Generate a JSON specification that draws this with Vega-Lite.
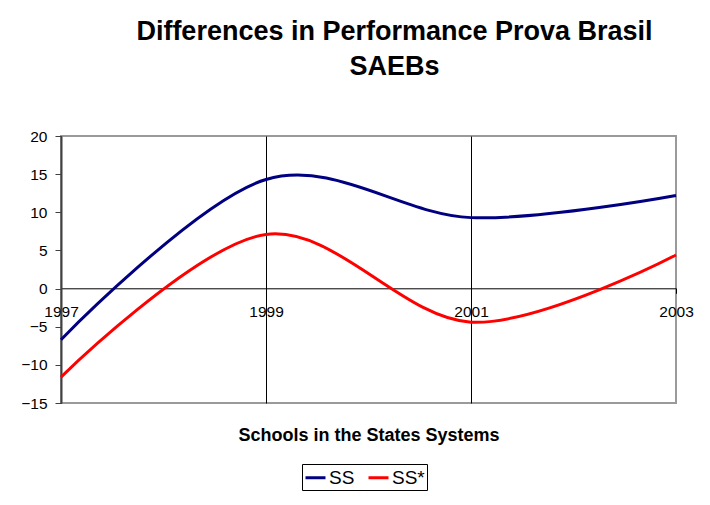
{
  "$schema": "https://vega.github.io/schema/vega-lite/v6.json",
  "width": 615,
  "height": 267,
  "autosize": {"type": "none"},
  "padding": {"left": 61, "top": 136, "right": 34, "bottom": 102},
  "background": "white",
  "config": {
    "font": "Liberation Sans",
    "view": {"stroke": "#9a9a9a", "strokeWidth": 2}
  },
  "title": {
    "text": ["Differences in Performance Prova Brasil", "SAEBs"],
    "font": "Liberation Sans",
    "fontSize": 27,
    "fontWeight": "bold",
    "color": "black",
    "lineHeight": 35,
    "anchor": "middle",
    "dx": 26,
    "offset": 48
  },
  "data": {
    "values": [
      {"year": 1997, "series": "SS", "value": -6.7},
      {"year": 1999, "series": "SS", "value": 14.3},
      {"year": 2001, "series": "SS", "value": 9.3},
      {"year": 2003, "series": "SS", "value": 12.2},
      {"year": 1997, "series": "SS*", "value": -11.6},
      {"year": 1999, "series": "SS*", "value": 7.1},
      {"year": 2001, "series": "SS*", "value": -4.4},
      {"year": 2003, "series": "SS*", "value": 4.4}
    ]
  },
  "mark": {"type": "line", "interpolate": "cardinal", "tension": 0, "strokeWidth": 3, "clip": false},
  "encoding": {
    "x": {
      "field": "year",
      "type": "quantitative",
      "scale": {"domain": [1997, 2003], "nice": false, "zero": false},
      "axis": {
        "values": [1997, 1999, 2001, 2003],
        "format": "d",
        "offset": -114.7,
        "domainColor": "black",
        "domainWidth": 1,
        "tickColor": "black",
        "tickSize": 5,
        "labelFontSize": 15.5,
        "labelColor": "black",
        "labelPadding": 11,
        "labelFlush": false,
        "grid": true,
        "gridColor": {"condition": {"test": "datum.value == 2003", "value": "#9a9a9a"}, "value": "black"},
        "gridWidth": 1,
        "title": "Schools in the States Systems",
        "titleFontSize": 18,
        "titleFontWeight": "bold",
        "titleColor": "black",
        "titleBaseline": "alphabetic",
        "titleY": 152
      }
    },
    "y": {
      "field": "value",
      "type": "quantitative",
      "scale": {"domain": [-15, 20], "nice": false},
      "axis": {
        "values": [-15, -10, -5, 0, 5, 10, 15, 20],
        "grid": false,
        "domainColor": "#404040",
        "domainWidth": 2,
        "tickColor": "#404040",
        "tickSize": 6,
        "labelFontSize": 15.5,
        "labelColor": "black",
        "labelPadding": 8,
        "title": null
      }
    },
    "color": {
      "field": "series",
      "type": "nominal",
      "scale": {"domain": ["SS", "SS*"], "range": ["#000080", "#ff0000"]},
      "legend": {
        "title": null,
        "orient": "none",
        "legendX": 241,
        "legendY": 328,
        "direction": "horizontal",
        "strokeColor": "black",
        "fillColor": "white",
        "padding": 2,
        "symbolType": "stroke",
        "symbolSize": 400,
        "symbolStrokeWidth": 3,
        "labelFontSize": 19,
        "labelColor": "black",
        "labelOffset": 2,
        "columnPadding": 7
      }
    }
  }
}
